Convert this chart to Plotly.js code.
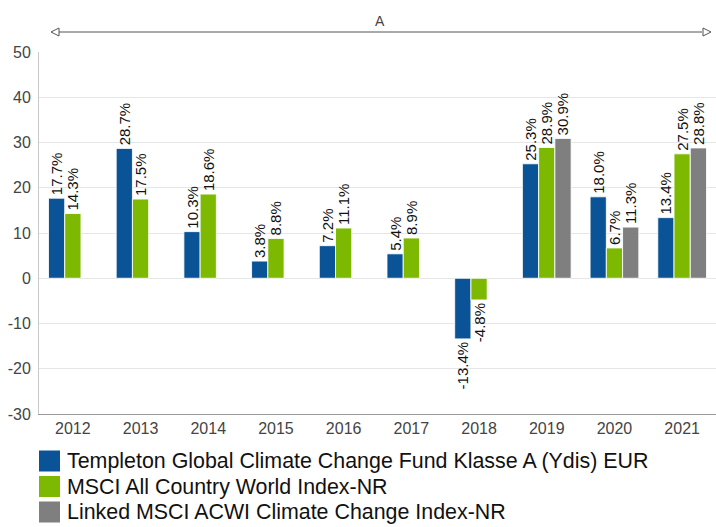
<!DOCTYPE html>
<html>
<head>
<meta charset="utf-8">
<script src="https://cdn.plot.ly/plotly-3.0.1.min.js"></script>
<style>html,body{margin:0;padding:0;background:#fff}#chart{width:716px;height:527px}</style>
</head>
<body>
<div id="chart"></div>
<script>
const years = ['2012','2013','2014','2015','2016','2017','2018','2019','2020','2021'];
const seriesNames = [
  'Templeton Global Climate Change Fund Klasse A (Ydis) EUR',
  'MSCI All Country World Index-NR',
  'Linked MSCI ACWI Climate Change Index-NR'
];
const fundValues = [17.7, 28.7, 10.3, 3.8, 7.2, 5.4, -13.4, 25.3, 18.0, 13.4];
const acwiValues = [14.3, 17.5, 18.6, 8.8, 11.1, 8.9, -4.8, 28.9, 6.7, 27.5];
const climateValues = [null, null, null, null, null, null, null, 30.9, 11.3, 28.8];
const yTicks = [-30, -20, -10, 0, 10, 20, 30, 40, 50];
const periodLabel = 'A';
const colors = ['#0A5396', '#7DB900', '#7F7F7F'];

const allValues = [fundValues, acwiValues, climateValues];
const fmt = v => (v === null ? '' : v.toFixed(1) + '%');

const traces = allValues.map((vals, i) => ({
  type: 'bar',
  name: seriesNames[i],
  x: years,
  y: vals,
  text: vals.map(fmt),
  textposition: 'outside',
  textangle: -90,
  constraintext: 'none',
  cliponaxis: false,
  textfont: {family: 'Liberation Sans, Arial, sans-serif', size: 15, color: '#111'},
  marker: {color: colors[i], line: {color: 'rgba(255,255,255,0.85)', width: 1}},
  showlegend: false,
  hoverinfo: 'skip'
}));

const PW = 677, PH = 362;
const shapes = [];
const annotations = [];

// period arrow
const lineY = (414 - 32) / PH;
shapes.push({type: 'line', xref: 'paper', yref: 'paper', x0: (59 - 39) / PW, x1: (702 - 39) / PW, y0: lineY, y1: lineY, line: {color: '#555', width: 1}});
shapes.push({type: 'path', xref: 'paper', yref: 'paper', xsizemode: 'pixel', ysizemode: 'pixel', xanchor: (51 - 39) / PW, yanchor: lineY,
  path: 'M0,0 L8,4 L8,-4 Z', line: {color: '#555', width: 1}, fillcolor: '#fff'});
shapes.push({type: 'path', xref: 'paper', yref: 'paper', xsizemode: 'pixel', ysizemode: 'pixel', xanchor: (711 - 39) / PW, yanchor: lineY,
  path: 'M0,0 L-8,4 L-8,-4 Z', line: {color: '#555', width: 1}, fillcolor: '#fff'});
annotations.push({text: periodLabel, xref: 'paper', yref: 'paper', x: (380 - 39) / PW, y: (414 - 21) / PH,
  xanchor: 'center', yanchor: 'middle', showarrow: false, font: {family: 'Liberation Sans, Arial, sans-serif', size: 14, color: '#444'}});

// custom legend
const legendCenters = [461, 486.5, 512];
seriesNames.forEach((name, i) => {
  const yc = (414 - legendCenters[i]) / PH;
  shapes.push({type: 'rect', xref: 'paper', yref: 'paper', xsizemode: 'pixel', ysizemode: 'pixel', xanchor: 0, yanchor: yc,
    x0: 0, x1: 21, y0: -10.5, y1: 10.5, fillcolor: colors[i], line: {width: 0}});
  annotations.push({text: name, xref: 'paper', yref: 'paper', x: (65 - 39) / PW, y: yc, xanchor: 'left', yanchor: 'middle',
    showarrow: false, font: {family: 'Liberation Sans, Arial, sans-serif', size: 21.4, color: '#111'}});
});

const layout = {
  width: 716, height: 527,
  margin: {l: 39, r: 0, t: 52, b: 113},
  paper_bgcolor: '#fff', plot_bgcolor: '#fff',
  barmode: 'group', bargap: 0.28, bargroupgap: 0,
  font: {family: 'Liberation Sans, Arial, sans-serif', color: '#444'},
  xaxis: {
    type: 'category', showgrid: false, showline: true, linecolor: '#999', linewidth: 1,
    ticks: '', tickfont: {size: 16, color: '#444'}, zeroline: false, fixedrange: true
  },
  yaxis: {
    range: [-30, 50], tickvals: yTicks, ticktext: yTicks.map(String),
    showgrid: true, gridcolor: '#e6e6e6', gridwidth: 1,
    zeroline: true, zerolinecolor: '#e6e6e6', zerolinewidth: 1,
    showline: true, linecolor: '#c8c8c8', linewidth: 1,
    ticks: 'outside', ticklen: 4, tickcolor: 'rgba(0,0,0,0)',
    tickfont: {size: 16, color: '#444'}, fixedrange: true
  },
  shapes: shapes,
  annotations: annotations,
  showlegend: false
};

Plotly.newPlot('chart', traces, layout, {displayModeBar: false, staticPlot: true});
</script>
</body>
</html>
